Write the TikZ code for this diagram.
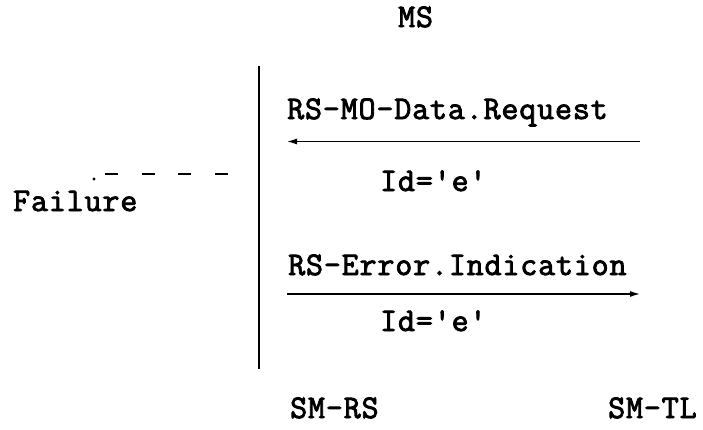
\documentclass[tikz,border=0pt]{standalone}
\usepackage{fontspec}
\newfontfamily\lbl{lmmono12-regular.otf}[FakeBold=2.6,LetterSpace=2.6]
\usetikzlibrary{arrows.meta}
\begin{document}
\begin{tikzpicture}[x=1pt,y=-1pt,
  lab/.style={anchor=base west,inner sep=0pt,font=\lbl\fontsize{33}{33}\selectfont},
  msg/.style={line width=1.3pt,-{Latex[length=10pt,width=6pt]}},
  life/.style={line width=2pt}]
\useasboundingbox (0,0) rectangle (703,429);
\node[lab] (ms) at (398,27) {MS};
\coordinate (ltop) at (259,66);
\coordinate (lbot) at (259,369);
\draw[life] (ltop) -- (lbot);
\node[lab] (req) at (287,119) {RS-MO-Data.Request};
\coordinate (reqR) at (640,141.5);
\coordinate (reqL) at (287,141.5);
\draw[msg] (reqR) -- (reqL);
\node[lab] (id1) at (380,191) {Id='e'};
\node[lab] (fail) at (13,211) {Failure};
\fill (94,179) circle (1.7);
\coordinate (fa) at (105,174);
\coordinate (fb) at (228,174);
\draw[line width=2.5pt,dash pattern=on 13pt off 23.7pt] (fa) -- (fb);
\node[lab] (err) at (288,275) {RS-Error.Indication};
\coordinate (errL) at (287,294);
\coordinate (errR) at (640,294);
\draw[msg] (errL) -- (errR);
\node[lab] (id2) at (380,331) {Id='e'};
\node[lab] (smrs) at (290,418) {SM-RS};
\node[lab] (smtl) at (608,418) {SM-TL};
\end{tikzpicture}
\end{document}
